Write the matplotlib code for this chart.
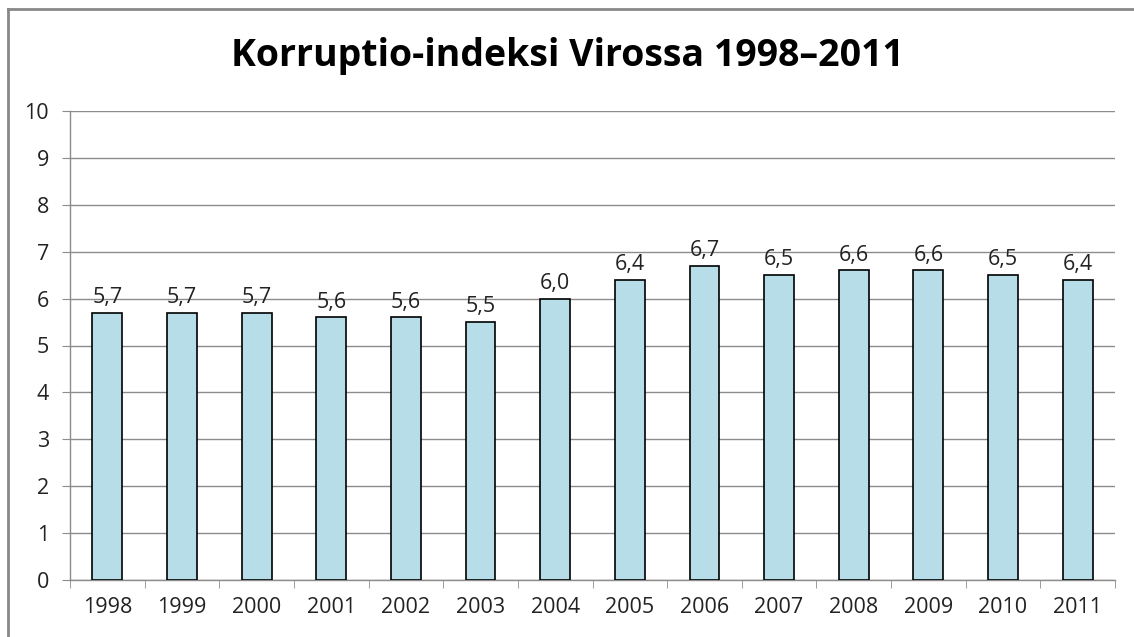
import matplotlib.pyplot as plt
from matplotlib.lines import Line2D

years = ['1998', '1999', '2000', '2001', '2002', '2003', '2004',
         '2005', '2006', '2007', '2008', '2009', '2010', '2011']
index_values = [5.7, 5.7, 5.7, 5.6, 5.6, 5.5, 6.0, 6.4, 6.7, 6.5, 6.6, 6.6, 6.5, 6.4]

plt.rcParams['font.family'] = ['Open Sans', 'DejaVu Sans']

W, H = 1134, 637
fig = plt.figure(figsize=(W / 100, H / 100), dpi=100)
ax = fig.add_axes([70 / W, 1 - 580 / H, (1115 - 70) / W, (580 - 111) / H])

x = range(len(years))
bars = ax.bar(x, index_values, width=0.4, color='#b7dde8', edgecolor='black',
              linewidth=1.2, zorder=3)

# value labels with comma decimals
for bar, v in zip(bars, index_values):
    ax.text(bar.get_x() + bar.get_width() / 2, v + 0.1, f'{v:.1f}'.replace('.', ','),
            ha='center', va='bottom', fontsize=15.5, color='#222222')

ax.set_ylim(0, 10)
ax.set_xlim(-0.5, len(years) - 0.5)
ax.set_yticks(range(0, 11))
ax.yaxis.grid(True, color='#8c8c8c', linewidth=1, zorder=0)
ax.set_axisbelow(True)

ax.set_xticks(x)
ax.set_xticklabels(years)
ax.set_xticks([i - 0.5 for i in range(len(years) + 1)], minor=True)
ax.tick_params(axis='x', which='major', length=0, pad=12, labelsize=15.5, labelcolor='#222222')
ax.tick_params(axis='x', which='minor', length=6, color='#8c8c8c')
ax.tick_params(axis='y', length=6, color='#8c8c8c', labelsize=15.5, labelcolor='#222222', pad=9)

for s in ['top', 'right']:
    ax.spines[s].set_visible(False)
for s in ['left', 'bottom']:
    ax.spines[s].set_color('#8c8c8c')
    ax.spines[s].set_linewidth(1)

fig.text(0.5, 1 - 56 / H, 'Korruptio-indeksi Virossa 1998–2011', ha='center', va='center',
         fontsize=27, fontweight='bold', color='black')

# chart frame (left and top edges visible)
fig.add_artist(Line2D([8 / W, 8 / W], [0, 1 - 9 / H], transform=fig.transFigure,
                      color='#888888', linewidth=2))
fig.add_artist(Line2D([8 / W, 1], [1 - 9 / H, 1 - 9 / H], transform=fig.transFigure,
                      color='#888888', linewidth=2))

fig.savefig('out.png', dpi=100)
